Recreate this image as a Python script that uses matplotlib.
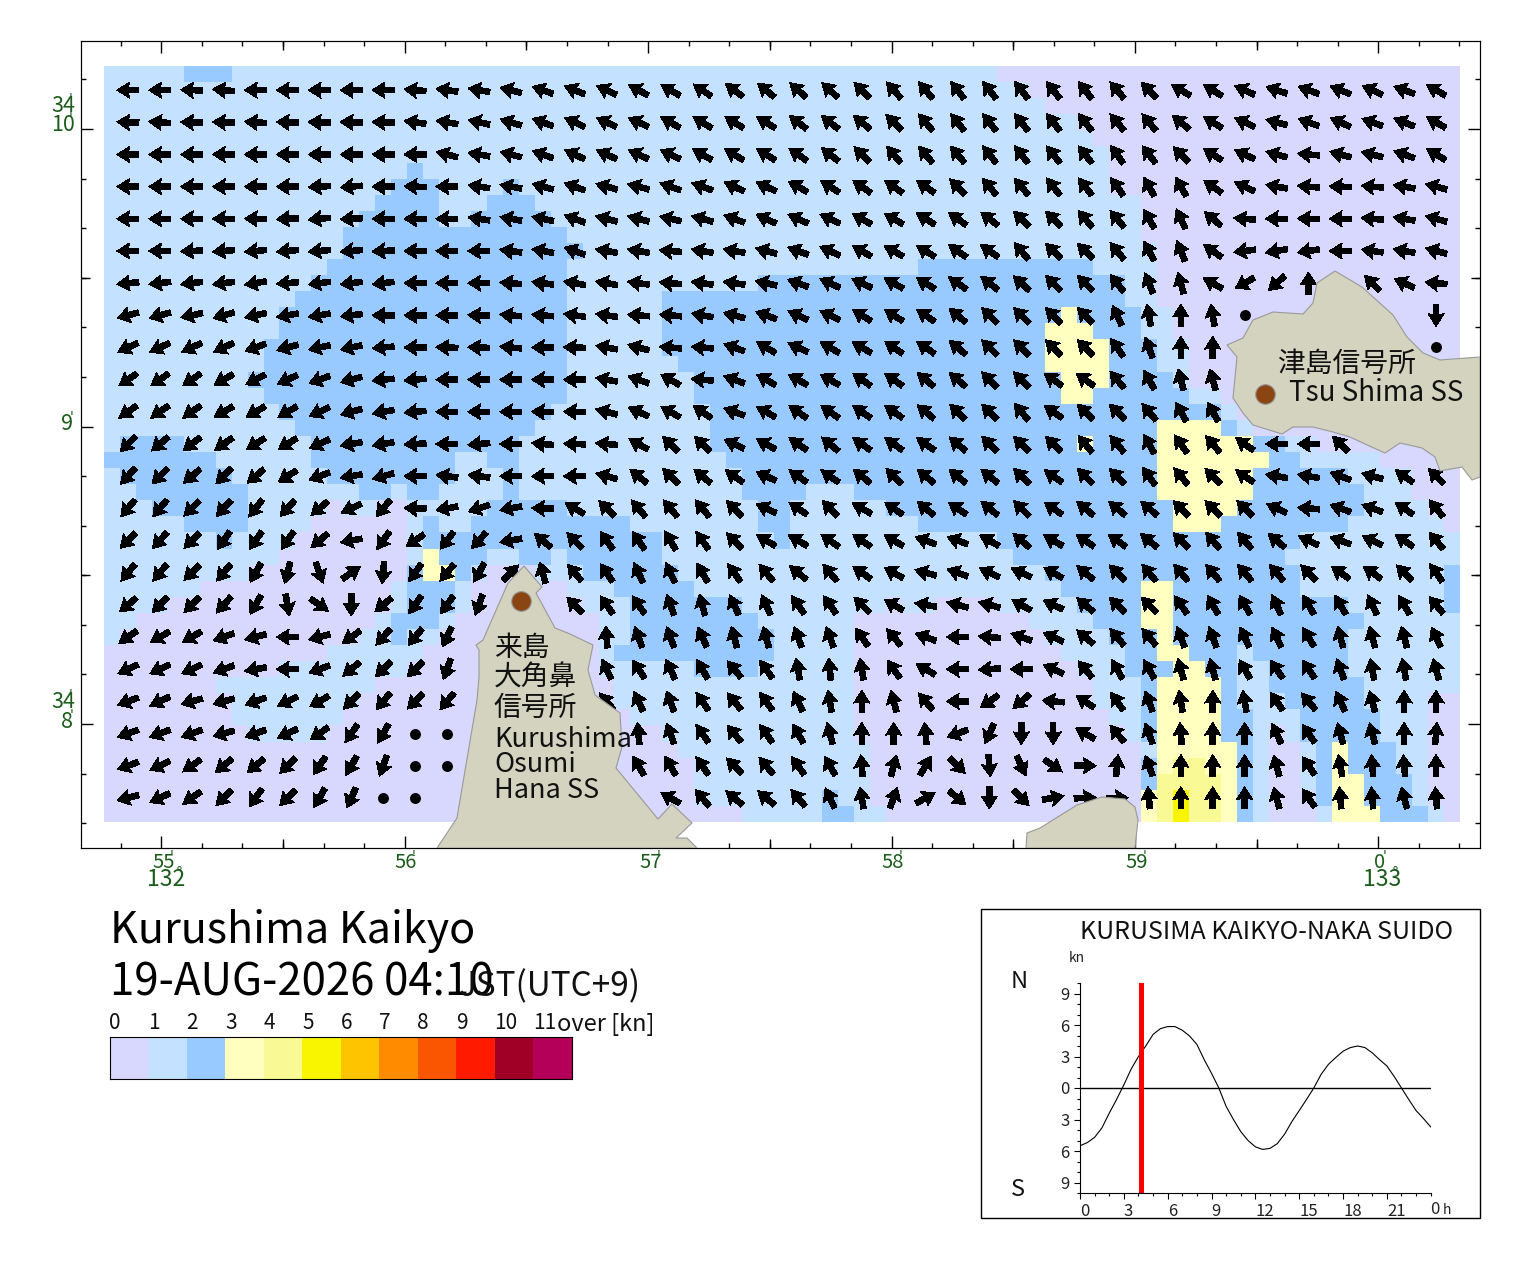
import numpy as np
import matplotlib
matplotlib.use("Agg")
import matplotlib.pyplot as plt
from matplotlib.colors import ListedColormap, BoundaryNorm
from matplotlib.patches import Polygon, Rectangle

plt.rcParams['font.family'] = ['Noto Sans CJK JP', 'DejaVu Sans']

W, H = 1520, 1269
nan = float('nan')
calm = -1  # drawn as a dot

level_colors = ['#D8D8FF', '#C4E2FF', '#99CAFF', '#FFFFBF', '#F9F996', '#F9F500',
                '#FFC400', '#FF8C00', '#FA5500', '#FF1A00', '#A00025', '#B40058']
level_labels = ['0', '1', '2', '3', '4', '5', '6', '7', '8', '9', '10', '11']

# speed level per grid row, written as level:end_column
speed_rows = [
    "1:5 2:8 1:56 0:85",
    "1:58 0:85",
    "1:59 0:85",
    "1:61 0:85",
    "1:62 0:85",
    "1:63 0:85",
    "1:19 2:20 1:63 0:85",
    "1:18 2:21 1:25 2:26 1:63 0:85",
    "1:17 2:21 1:24 2:27 1:65 0:85",
    "1:16 2:21 1:23 2:28 1:65 0:85",
    "1:15 2:29 1:65 0:85",
    "1:15 2:30 1:66 0:85",
    "1:14 2:29 1:51 2:62 1:66 0:85",
    "1:13 2:29 1:41 2:64 1:66 0:85",
    "1:12 2:29 1:35 2:64 1:66 0:85",
    "1:11 2:29 1:35 2:60 3:61 2:65 1:67 0:85",
    "1:11 2:29 1:35 2:59 3:62 2:65 1:67 0:85",
    "1:10 2:29 1:35 2:59 3:63 2:66 1:68 0:85",
    "1:10 2:29 1:36 2:59 3:63 2:66 1:68 0:85",
    "1:9 2:29 1:37 2:60 3:63 2:67 1:68 0:85",
    "1:10 2:29 1:37 2:60 3:62 2:68 1:70 0:85",
    "1:11 2:28 1:38 2:70 1:71 0:85",
    "1:12 2:27 1:38 2:66 3:70 2:71 1:72 0:85",
    "1:1 2:5 1:13 2:26 1:38 2:61 3:62 2:66 3:72 2:74 1:76 0:85",
    "2:7 1:13 2:22 1:24 2:26 1:39 2:66 3:73 2:75 1:80 0:85",
    "1:1 2:8 1:14 2:22 1:25 2:26 1:40 2:66 3:72 2:78 1:82 0:85",
    "1:2 2:9 1:16 2:18 1:19 2:21 1:25 2:26 1:40 2:44 1:47 2:66 3:72 2:79 1:82 0:85",
    "1:3 2:9 1:14 0:15 1:17 0:19 1:24 2:29 1:41 2:43 1:49 2:67 3:71 2:79 1:83 0:85",
    "1:5 2:9 1:13 0:19 1:20 2:21 1:23 2:33 1:41 2:43 1:51 2:67 3:70 2:78 1:84 0:85",
    "1:7 2:8 1:12 0:19 1:20 2:35 1:42 2:43 1:56 2:75 1:85",
    "1:11 0:19 1:20 3:21 2:24 1:26 2:28 1:29 2:35 1:57 2:74 1:85",
    "1:9 0:19 2:20 3:22 2:23 1:24 0:27 1:30 2:36 1:59 2:75 1:84 2:85",
    "1:6 0:18 1:19 2:22 1:23 0:29 1:32 2:37 1:60 2:65 3:67 2:75 1:84 2:85",
    "1:4 0:18 1:19 2:22 1:23 0:30 1:33 2:40 1:49 0:50 1:52 0:56 1:61 2:65 3:67 2:78 1:84 2:85",
    "1:2 0:17 1:18 2:21 1:22 0:31 1:33 2:41 1:47 0:58 1:62 2:65 3:67 2:79 1:85",
    "1:1 0:16 1:18 2:19 1:21 0:31 1:33 2:42 1:47 0:59 1:63 2:66 3:67 2:78 1:85",
    "0:14 1:20 0:31 1:32 2:42 1:47 0:60 1:64 2:66 3:68 2:71 1:72 2:78 1:85",
    "0:11 1:19 0:31 1:37 2:41 1:47 0:61 1:64 2:67 3:69 2:71 1:73 2:78 1:85",
    "0:7 1:17 0:32 1:47 0:62 1:65 2:66 3:70 2:71 1:73 2:79 1:85",
    "0:8 1:16 0:32 1:47 0:62 1:65 2:66 3:70 2:71 1:74 2:79 1:83 0:85",
    "0:8 1:15 0:33 1:47 0:63 1:65 2:66 3:70 2:72 1:75 2:80 1:83 0:85",
    "0:9 1:14 0:35 1:47 0:64 1:65 2:66 3:70 2:72 1:73 0:74 1:75 2:80 1:83 0:85",
    "0:36 1:48 0:65 1:66 3:71 2:72 1:73 0:75 1:76 2:77 3:78 2:81 1:83 0:85",
    "0:37 1:48 0:65 2:66 3:67 4:69 3:71 2:72 1:73 0:75 1:76 2:77 3:78 2:81 1:83 0:85",
    "0:37 1:48 0:65 2:66 4:70 3:71 2:72 1:73 0:75 1:76 2:77 3:79 2:82 1:83 0:85",
    "0:37 1:45 2:46 1:48 0:65 3:66 4:67 5:68 4:70 3:71 2:72 1:73 0:76 2:77 3:79 2:82 1:83 0:85",
    "0:40 1:45 2:47 1:49 0:65 3:66 4:67 5:68 4:70 3:71 2:72 1:73 0:76 1:77 3:80 2:83 1:84 0:85",
]

# flow direction in degrees (0 east, 90 north), every second grid cell
flow_dir = [
    [180, 180, 178, 175, 180, 180, 180, 180, 180, 175, 172, 170, 165, 160, 158,
     155, 152, 150, 146, 143, 140, 138, 137, 135, 132, 130, 128, 128, 128,
     128, 128, 130, 135, 150, 148, 155, 162, 160, 158, 155, 160, 150],
    [178, 176, 178, 178, 176, 178, 178, 178, 178, 172, 170, 168, 163, 160, 155,
     155, 155, 150, 148, 148, 148, 142, 142, 140, 135, 130, 128, 128, 128,
     128, 128, 130, 130, 140, 148, 155, 165, 160, 155, 160, 158, 150],
    [180, 180, 180, 180, 180, 180, 180, 180, 180, 180, 165, 170, 165, 160, 155,
     155, 155, 155, 150, 148, 148, 145, 142, 135, 130, 130, 130, 128, 128,
     128, 128, 125, 128, 135, 148, 155, 165, 175, 165, 165, 160, 150],
    [180, 180, 180, 180, 180, 180, 183, 185, 180, 178, 180, 172, 170, 165, 160,
     165, 165, 160, 160, 155, 155, 150, 148, 145, 145, 145, 135, 130, 130,
     128, 128, 125, 120, 120, 145, 155, 170, 175, 178, 175, 170, 165],
    [180, 180, 180, 180, 178, 183, 185, 183, 180, 180, 180, 172, 170, 168, 160,
     165, 165, 168, 165, 160, 155, 155, 155, 150, 150, 148, 145, 142, 135,
     135, 130, 130, 120, 115, 140, 175, 180, 178, 180, 175, 170, 165],
    [180, 180, 183, 185, 185, 185, 185, 185, 183, 180, 180, 180, 172, 170, 160,
     170, 170, 175, 170, 170, 165, 160, 155, 150, 150, 148, 145, 145, 130,
     135, 135, 130, 118, 112, 145, 187, 190, 188, 180, 172, 170, 165],
    [185, 187, 187, 187, 190, 185, 187, 187, 187, 180, 180, 180, 175, 172, 170,
     170, 172, 175, 172, 172, 168, 160, 155, 155, 150, 148, 145, 142, 138,
     135, 135, 128, 112, 105, 150, 210, 222, 90, nan, 135, 155, 175],
    [195, 195, 192, 195, 192, 190, 190, 187, 180, 180, 180, 178, 175, 175, 172,
     172, 175, 175, 170, 165, 160, 155, 155, 148, 148, 145, 140, 135, 135,
     135, 135, 115, 100, 90, 100, calm, nan, nan, nan, nan, nan, 270],
    [205, 205, 205, 205, 200, 195, 192, 192, 185, 180, 178, 178, 175, 180, 178,
     170, 165, 175, 175, 160, 150, 155, 150, 150, 145, 145, 140, 135, 135,
     135, 135, 125, 110, 90, 90, nan, nan, nan, nan, nan, nan, calm],
    [215, 215, 215, 210, 208, 205, 200, 195, 185, 185, 180, 180, 180, 180, 180,
     170, 160, 150, 175, 160, 150, 150, 150, 145, 145, 140, 140, 135, 135,
     145, 145, 130, 120, 105, 105, nan, nan, nan, nan, nan, nan, nan],
    [215, 215, 215, 210, 210, 210, 205, 195, 190, 185, 180, 180, 180, 178, 178,
     165, 155, 150, 145, 160, 150, 145, 145, 145, 145, 140, 135, 135, 130,
     145, 135, 135, 130, 120, 120, nan, nan, nan, nan, nan, nan, nan],
    [225, 220, 218, 215, 212, 212, 205, 190, 190, 183, 180, 185, 180, 175, 178,
     175, 150, 135, 135, 155, 150, 145, 140, 145, 145, 145, 140, 135, 135,
     135, 130, 130, 120, 125, 130, 145, 180, 180, 135, nan, nan, nan],
    [228, 225, 220, 225, 220, 212, 200, 190, 195, 180, 172, 172, 180, 182, 180,
     165, 140, 135, 140, 145, 155, 145, 145, 140, 135, 140, 140, 140, 135,
     145, 135, 135, 125, 130, 135, 145, 170, 170, 160, 165, 145, 135],
    [230, 230, 225, 228, 232, 228, 220, 205, 230, 178, 190, 198, 190, 178, 150,
     135, 130, 130, 130, 135, 155, 145, 135, 150, 145, 140, 145, 140, 135,
     145, 140, 140, 140, 135, 135, 135, 155, 175, 160, 160, 145, 130],
    [225, 228, 225, 235, 235, 235, 220, 190, 235, 215, 232, 228, 190, 140, 135,
     125, 125, 120, 125, 135, 150, 150, 145, 145, 150, 160, 160, 150, 140,
     150, 145, 145, 140, 135, 130, 130, 140, 155, 160, 155, 145, 130],
    [230, 230, 225, 230, 240, 255, 290, 35, 265, 235, 230, 240, 45, 105, 130,
     125, 115, 115, 120, 125, 130, 140, 130, 145, 150, 165, 160, 155, 155,
     150, 140, 135, 130, 130, 130, 130, 130, 135, 145, 145, 135, 125],
    [220, 225, 225, 228, 240, 280, 325, 270, 220, 235, 235, 250, nan, nan, 135,
     125, 125, 110, 105, 115, 115, 125, 125, 135, 150, 170, 165, 165, 150,
     155, 140, 135, 135, 125, 120, 120, 115, 120, 120, 115, 120, 130],
    [215, 210, 210, 200, 195, 180, 195, 215, 228, 230, 245, nan, nan, nan, nan,
     95, 110, 110, 115, 105, 105, 110, 110, 125, 130, 160, 180, 175, 160,
     155, 140, 130, 130, 110, 110, 115, 115, 120, 105, 105, 105, 115],
    [205, 205, 205, 200, 190, 180, 200, 220, 225, 225, 250, nan, nan, nan, nan,
     115, 125, 115, 120, 130, 125, 100, 95, 100, 125, 150, 180, 185, 180,
     155, 130, 120, 120, 105, 105, 120, 125, 125, 110, 100, 100, 105],
    [200, 205, 195, 195, 200, 205, 210, 225, 230, 225, 230, nan, nan, nan, nan,
     130, 115, 110, 125, 130, 125, 115, 100, 90, 105, 130, 180, 215, 220,
     175, 145, 125, 110, 100, 90, 100, 125, 130, 115, 105, 90, 90],
    [200, 200, 200, 195, 200, 205, 215, 235, 240, calm, calm, nan, nan, nan, nan,
     nan, 95, 110, 125, 130, 125, 120, 105, 90, 90, 95, 200, 245, 270,
     270, 150, 130, 110, 95, 90, 90, 115, 125, 105, 105, 90, 85],
    [200, 205, 215, 220, 220, 225, 235, 240, 250, calm, calm, nan, nan, nan, nan,
     nan, 120, 120, 125, 135, 130, 125, 120, 95, 75, 60, 315, 275, 295,
     325, 0, 85, 110, 90, 90, 90, 105, 125, 100, 95, 95, 90],
    [195, 205, 215, 225, 235, 225, 240, 245, calm, calm, nan, nan, nan, nan, nan,
     nan, nan, 150, 130, 140, 140, 130, 115, 100, 70, 30, 320, 270, 315,
     10, 3, 0, 95, 90, 90, 90, 105, 125, 95, 95, 105, 95],
]

# coastlines, in image pixels
kurushima_coast = [(437, 848), (457, 818), (458, 812), (477, 700), (479, 677), (479, 650),
                   (476, 645), (483, 640), (508, 583), (524, 566), (542, 587), (536, 593),
                   (555, 628), (570, 634), (593, 645), (588, 670), (595, 695), (620, 713),
                   (622, 747), (616, 768), (658, 819), (672, 804), (692, 823), (676, 838),
                   (687, 838), (697, 848)]
oshima_coast = [(1026, 848), (1027, 833), (1040, 828), (1077, 805), (1102, 797), (1125, 799),
                (1135, 807), (1138, 820), (1135, 848)]
tsushima_coast = [(1227, 345), (1243, 338), (1253, 320), (1273, 312), (1303, 314), (1313, 303),
                  (1317, 283), (1335, 271), (1362, 287), (1393, 315), (1407, 337), (1423, 353),
                  (1440, 360), (1480, 357), (1480, 477), (1472, 480), (1462, 467), (1440, 471),
                  (1435, 457), (1422, 448), (1400, 443), (1385, 453), (1365, 444), (1350, 437),
                  (1333, 432), (1313, 427), (1293, 427), (1282, 434), (1253, 425), (1243, 413),
                  (1233, 398), (1237, 357)]

# tidal current curve, knots every half hour from 0 h to 24 h
curve_hours = np.arange(0, 24.5, 0.5)
curve_knots = [-5.5, -5.2, -4.7, -3.8, -2.4, -1.1, 0.3, 1.8, 3.0, 4.0, 5.1, 5.65, 5.85, 5.85,
               5.5, 4.95, 4.15, 2.7, 1.4, 0.0, -1.75, -3.0, -4.15, -5.0, -5.6, -5.85, -5.75,
               -5.3, -4.4, -3.2, -2.15, -1.1, 0.0, 1.3, 2.25, 2.9, 3.5, 3.85, 4.0, 3.85, 3.35,
               2.7, 2.1, 1.1, 0.0, -1.1, -2.15, -2.9, -3.7]
now_hour = 4 + 10 / 60


def fx(x):
    return x / W


def fy(y):
    return 1 - y / H


def lon_of(x):
    return 55 + (x - 161.3) / 243.4


def lat_of(y):
    return 10 - (y - 129) / 297.5


def add_axes_px(left, top, right, bottom):
    return fig.add_axes([fx(left), fy(bottom), (right - left) / W, (bottom - top) / H])


def parse_rows(rows):
    out = []
    for row in rows:
        cells = []
        for part in row.split():
            level, end = part.split(":")
            cells += [int(level)] * (int(end) - len(cells))
        out.append(cells)
    return np.array(out)


def geo_label(x, y, txt, mark, size=14.5, mark_dx=8):
    fig.text(fx(x), fy(y), txt, color='#1A5C1A', fontsize=size, ha='center', va='center')
    fig.text(fx(x + mark_dx), fy(y - 7), mark, color='#1A5C1A', fontsize=10,
             ha='center', va='center', family='DejaVu Sans')


fig = plt.figure(figsize=(W / 100, H / 100), dpi=100)

# map
ax = add_axes_px(81, 41, 1480, 848)

speed = parse_rows(speed_rows)
lon_edges = np.linspace(lon_of(104), lon_of(1460), speed.shape[1] + 1)
lat_edges = np.linspace(lat_of(66), lat_of(822), speed.shape[0] + 1)
cmap = ListedColormap(level_colors)
norm = BoundaryNorm(np.arange(13), 12)
ax.pcolormesh(lon_edges, lat_edges, speed + 0.5, cmap=cmap, norm=norm, zorder=1)

lon_mid = (lon_edges[:-1] + lon_edges[1:]) / 2
lat_mid = (lat_edges[:-1] + lat_edges[1:]) / 2
grid_x, grid_y = np.meshgrid(lon_mid[1::2], lat_mid[1::2][:len(flow_dir)])
dirs = np.array(flow_dir, dtype=float)
moving = np.isfinite(dirs) & (dirs != calm)
ax.quiver(grid_x[moving], grid_y[moving], np.cos(np.radians(dirs[moving])),
          np.sin(np.radians(dirs[moving])), angles='uv', pivot='mid', units='dots',
          scale_units='dots', scale=1 / 22, width=5.5, headwidth=2.9, headlength=2.3,
          headaxislength=2.1, color='k', zorder=2, antialiased=False)
ax.scatter(grid_x[dirs == calm], grid_y[dirs == calm], s=62, c='k', linewidths=0, zorder=2)

for coast in (kurushima_coast, oshima_coast, tsushima_coast):
    pts = [(lon_of(x), lat_of(y)) for x, y in coast]
    ax.add_patch(Polygon(pts, closed=True, fc='#D3D3BF', ec='#999999', lw=0.8, zorder=3))

ax.scatter([lon_of(1265), lon_of(521)], [lat_of(394), lat_of(601)], s=200, c='#8B4513',
           edgecolors='#999999', linewidths=0.8, zorder=4)

# ticks: 1 minute long, 10 seconds short, 30 seconds in between
ax.set_xticks(np.arange(55, 61))
ax.set_yticks(np.arange(8, 11))
ax.set_xticks(np.arange(329, 363) / 6, minor=True)
ax.set_yticks(np.arange(46, 62) / 6, minor=True)
ax.tick_params(which='major', direction='in', length=8.6, width=1, top=True, right=True,
               labelbottom=False, labelleft=False)
ax.tick_params(which='minor', direction='in', length=3.6, width=1, top=True, right=True)
for side in ('top', 'bottom'):
    sec = ax.secondary_xaxis(side)
    sec.set_xticks(np.arange(55.5, 60, 1))
    sec.tick_params(direction='in', length=6.5, width=1, labeltop=False, labelbottom=False)
for side in ('left', 'right'):
    sec = ax.secondary_yaxis(side)
    sec.set_yticks(np.arange(8.5, 10, 1))
    sec.tick_params(direction='in', length=6.5, width=1, labelleft=False, labelright=False)
ax.set_xlim(lon_of(81), lon_of(1480))
ax.set_ylim(lat_of(848), lat_of(41))

geo_label(164, 863, '55', "'")
geo_label(406, 863, '56', "'")
geo_label(651, 863, '57', "'")
geo_label(893, 863, '58', "'")
geo_label(1137, 863, '59', "'")
geo_label(1380, 863, '0', "'", mark_dx=5)
geo_label(166, 880, '132', '°', size=16.5, mark_dx=13)
geo_label(1382, 880, '133', '°', size=16.5, mark_dx=13)
geo_label(63, 106, '34', "'", size=15.5)
geo_label(63, 125, '10', "'", size=15.5)
geo_label(67, 424, '9', "'", size=15.5, mark_dx=5)
geo_label(63, 702, '34', "'", size=15.5)
geo_label(67, 722, '8', "'", size=15.5, mark_dx=5)

# place names
fig.text(fx(1277), fy(364), '津島信号所', fontsize=20, va='center', color='#111111')
fig.text(fx(1289), fy(393), 'Tsu Shima SS', fontsize=20, va='center', color='#111111')
for txt, y in zip(['来島', '大角鼻', '信号所'], [648, 678, 708]):
    fig.text(fx(494), fy(y), txt, fontsize=20, va='center', color='#111111')
for txt, y in zip(['Kurushima', 'Osumi', 'Hana SS'], [740, 765, 790]):
    fig.text(fx(494), fy(y), txt, fontsize=19.5, va='center', color='#111111')

# headings
fig.text(fx(110), fy(931), 'Kurushima Kaikyo', fontsize=31, va='center', color='k')
fig.text(fx(110), fy(983), '19-AUG-2026 04:10', fontsize=31.5, va='center', color='k')
fig.text(fx(459), fy(987), 'JST(UTC+9)', fontsize=24, va='center', color='#111111')

# colour scale
cax = add_axes_px(109.5, 1037, 571.5, 1079)
cax.pcolormesh(np.arange(13), [0, 1], (np.arange(12) + 0.5).reshape(1, -1), cmap=cmap, norm=norm)
cax.set_yticks([])
cax.set_xticks(np.arange(12))
cax.set_xticklabels(level_labels, ha='left', fontsize=15, color='#111111')
cax.tick_params(axis='x', top=True, labeltop=True, bottom=False, labelbottom=False, length=0, pad=2)
fig.text(fx(557), fy(1025), 'over [kn]', fontsize=17, va='center', color='#111111')

# tidal current panel
fig.add_artist(Rectangle((fx(981), fy(1218)), 499 / W, 309 / H, transform=fig.transFigure,
                         fill=False, ec='k', lw=1))
tax = add_axes_px(1080, 983, 1430.7, 1193)
tax.patch.set_alpha(0)
tax.plot(curve_hours, curve_knots, color='k', lw=0.8)
tax.axhline(0, color='k', lw=1)
tax.axvline(now_hour, color='#FF0000', lw=3.6)
tax.spines['top'].set_visible(False)
tax.spines['right'].set_visible(False)
tax.set_xticks(np.arange(0, 22, 3))
tax.set_xticks(np.arange(0, 25), minor=True)
tax.set_xticklabels(['0', '3', '6', '9', '12', '15', '18', '21'], ha='left', fontsize=12,
                    color='#222222')
tax.set_yticks([-9, -6, -3, 0, 3, 6, 9])
tax.set_yticks(np.arange(-10, 11), minor=True)
tax.set_yticklabels(['9', '6', '3', '0', '3', '6', '9'], fontsize=12, color='#222222')
tax.tick_params(which='major', length=4.5, width=0.8, pad=3)
tax.tick_params(which='minor', length=2, width=0.8)
tax.set_xlim(0, 24)
tax.set_ylim(-10, 10)
fig.text(fx(1430), fy(1209), '0', fontsize=12, va='center', color='#222222')
fig.text(fx(1443), fy(1210), 'h', fontsize=10, va='center', color='#222222')
fig.text(fx(1069), fy(958), 'kn', fontsize=10, va='center', color='#222222')
fig.text(fx(1011), fy(981), 'N', fontsize=17, va='center', color='#111111')
fig.text(fx(1011), fy(1190), 'S', fontsize=17, va='center', color='#111111')
fig.text(fx(1080), fy(932), 'KURUSIMA KAIKYO-NAKA SUIDO', fontsize=18, va='center', color='#111111')

fig.savefig('out.png', dpi=100)
